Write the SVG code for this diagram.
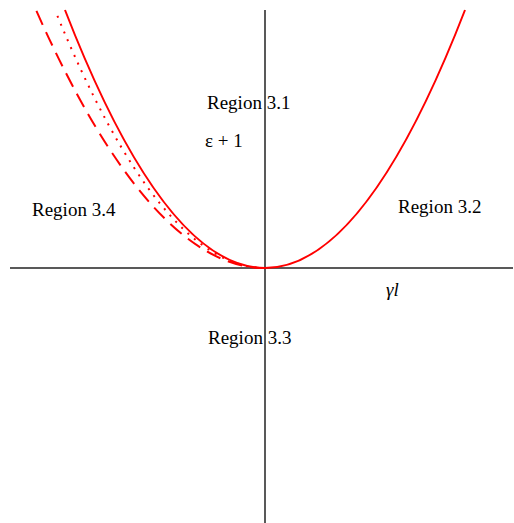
<svg xmlns="http://www.w3.org/2000/svg" width="514" height="523" viewBox="0 0 514 523">
<style>
.axis{stroke:#222;stroke-width:1.5;fill:none}
.crv{stroke:#ff0000;stroke-width:2;fill:none}
.dot{stroke-dasharray:2 6.5}
.dash{stroke-dasharray:15 8}
text{font-family:"Liberation Serif","Times New Roman",serif;font-size:19px;fill:#000}
</style>
<rect width="514" height="523" fill="#fff"/>
<g id="axes">
<line class="axis" x1="265" y1="10" x2="265" y2="523"/>
<line class="axis" x1="10" y1="268" x2="513" y2="268"/>
</g>
<g id="connectors">
<path id="right-solid" class="crv" d="M265,268 Q365,268 465,10"/>
<path id="left-solid" class="crv" d="M265,268 Q165,268 65,10"/>
<path id="left-dotted" class="crv dot" d="M265,268 Q160,268 55,10"/>
<path id="left-dashed" class="crv dash" d="M265,268 Q150.5,268 36,10"/>
</g>
<g id="labels">
<text id="r31" x="207" y="109">Region 3.1</text>
<text id="eps" x="205" y="147">ε + 1</text>
<text id="r34" x="32" y="216">Region 3.4</text>
<text id="r32" x="398" y="213">Region 3.2</text>
<text id="r33" x="208" y="344">Region 3.3</text>
<text id="gl" x="386" y="296" font-style="italic">γl</text>
</g>
</svg>
